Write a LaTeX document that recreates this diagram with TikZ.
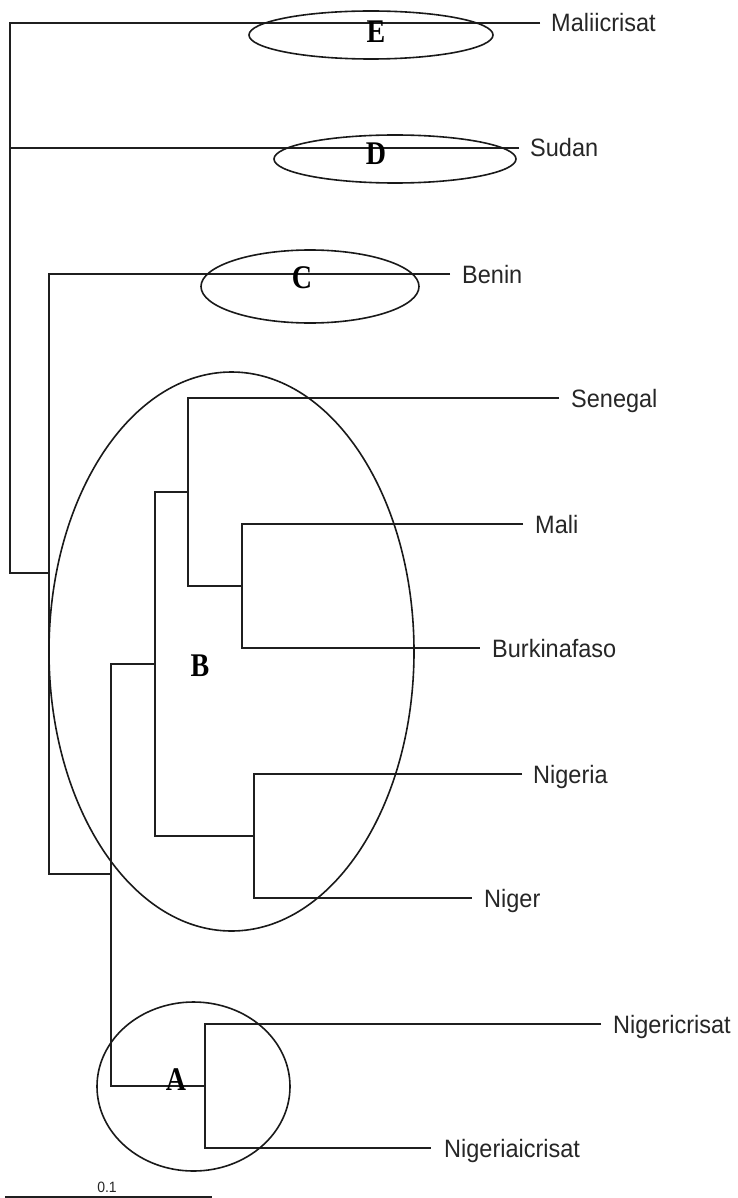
\documentclass[tikz,border=0pt]{standalone}
\usepackage{fontspec}
\usepackage{graphicx}
\setmainfont{Liberation Sans}
\newfontfamily\letterfont{Liberation Serif}
\newcommand{\tallA}[1]{\scalebox{1}[1.07]{#1}}
\newcommand{\tallB}[1]{\scalebox{1}[1.18]{#1}}
\tikzset{
  branch/.style={line width=1.6pt, draw=black!88},
  clade/.style={line width=1.6pt, draw=black!90},
  leaf/.style={anchor=base west, inner sep=0pt, font=\fontsize{23.5}{28}\selectfont, text=black!85},
  cladelabel/.style={anchor=base, inner sep=0pt, font=\letterfont\bfseries\fontsize{28}{32}\selectfont},
}
\begin{document}
\begin{tikzpicture}[x=1pt,y=-1pt]
\useasboundingbox (0,0) rectangle (737,1198);
% leaf tips
\coordinate (eMalii) at (540,23);
\coordinate (eSudan) at (519,148);
\coordinate (eBenin) at (450,274);
\coordinate (eSen) at (559,398);
\coordinate (eMali) at (523,524);
\coordinate (eBurk) at (480,648);
\coordinate (eNigeria) at (522,774);
\coordinate (eNiger) at (472,898);
\coordinate (eNigI) at (601,1024);
\coordinate (eNigIA) at (431,1148);
% internal nodes
\coordinate (n5) at (242,586);
\coordinate (n4) at (188,492);
\coordinate (n6) at (254,836);
\coordinate (n3) at (155,664);
\coordinate (nA) at (205,1086);
\coordinate (n2) at (111,874);
\coordinate (n1) at (49,573);
\coordinate (root) at (10,298);
% leaf labels
\node[leaf] (Malii) at ([xshift=11pt,yshift=-9pt]eMalii) {\tallA{Maliicrisat}};
\node[leaf] (Sudan) at ([xshift=11pt,yshift=-9pt]eSudan) {\tallA{Sudan}};
\node[leaf] (Benin) at ([xshift=12pt,yshift=-9pt]eBenin) {\tallA{Benin}};
\node[leaf] (Sen) at ([xshift=12pt,yshift=-9pt]eSen) {\tallA{Senegal}};
\node[leaf] (Mali) at ([xshift=12pt,yshift=-9pt]eMali) {\tallA{Mali}};
\node[leaf] (Burk) at ([xshift=12pt,yshift=-9pt]eBurk) {\tallA{Burkinafaso}};
\node[leaf] (Nigeria) at ([xshift=11pt,yshift=-9pt]eNigeria) {\tallA{Nigeria}};
\node[leaf] (Niger) at ([xshift=12pt,yshift=-9pt]eNiger) {\tallA{Niger}};
\node[leaf] (NigI) at ([xshift=12pt,yshift=-9pt]eNigI) {\tallA{Nigericrisat}};
\node[leaf] (NigIA) at ([xshift=13pt,yshift=-9pt]eNigIA) {\tallA{Nigeriaicrisat}};
% branches
\draw[branch] (eMali) -| (n5) |- (eBurk);
\draw[branch] (eSen) -| (n4) |- (n5);
\draw[branch] (eNigeria) -| (n6) |- (eNiger);
\draw[branch] (n4) -| (n3) |- (n6);
\draw[branch] (eNigI) -| (nA) |- (eNigIA);
\draw[branch] (n3) -| (n2) |- (nA);
\draw[branch] (eBenin) -| (n1) |- (n2);
\draw[branch] (eMalii) -| (root) |- (n1);
\draw[branch] (eSudan) -- (root |- eSudan);
% clade ellipses
\draw[clade] (371,35) ellipse (122 and 24);
\draw[clade] (395,159) ellipse (121 and 24);
\draw[clade] (310,286.5) ellipse (109 and 36.5);
\draw[clade] (231.5,651.5) ellipse (182.5 and 279.5);
\draw[clade] (193.5,1086.5) ellipse (96.5 and 84.5);
% clade letters
\node[cladelabel] (LE) at (376,43) {\tallB{E}};
\node[cladelabel] (LD) at (376,165) {\tallB{D}};
\node[cladelabel] (LC) at (302,288) {\tallB{C}};
\node[cladelabel] (LB) at (200,676) {\tallB{B}};
\node[cladelabel] (LA) at (176,1090) {\tallB{A}};
% scale bar
\coordinate (sL) at (5,1196.5);
\coordinate (sR) at (212,1196.5);
\draw[line width=2pt, draw=black!88] (sL) -- (sR);
\node[anchor=base, inner sep=0pt, font=\fontsize{14}{16}\selectfont, text=black!85] (scale) at (107,1192.5) {\tallA{0.1}};
\end{tikzpicture}
\end{document}
